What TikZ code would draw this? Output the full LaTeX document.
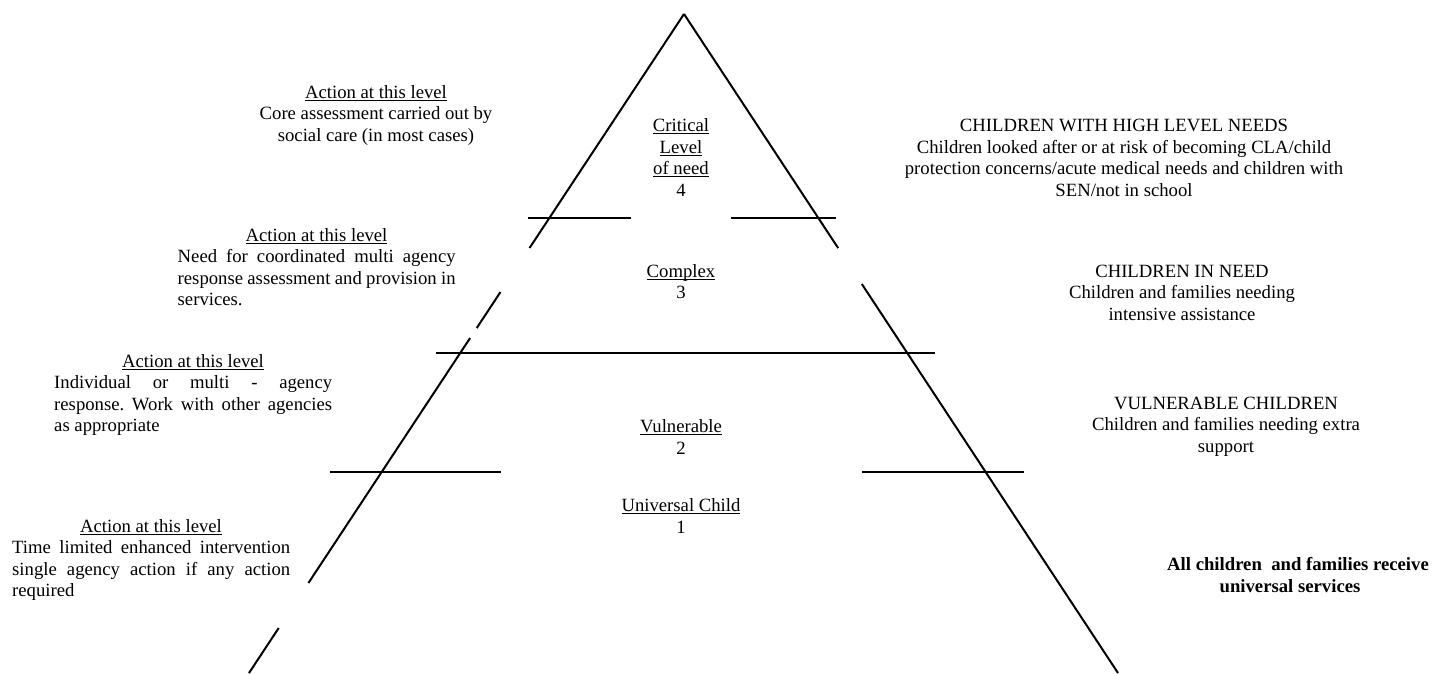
\documentclass[tikz,border=0pt]{standalone}
\usepackage{fontspec}
\setmainfont{Liberation Serif}
\usetikzlibrary{calc}
\frenchspacing
\newcommand{\ulx}[1]{\setbox0=\hbox{#1}\rlap{\rule[-2.5pt]{\wd0}{0.9pt}}\box0}
\newcommand{\jst}[1]{\makebox[278pt][s]{#1}}
\begin{document}
\begin{tikzpicture}[x=1pt,y=-1pt,
  txt/.style={inner sep=0pt, anchor=base, font=\fontsize{18.7}{21.5}\selectfont},
  jtxt/.style={txt, anchor=base west},
  btxt/.style={txt, font=\fontsize{18.7}{21.5}\selectfont\bfseries},
  edge/.style={line width=2pt}]
\useasboundingbox (0,0) rectangle (1432,673);
% pyramid sides
\coordinate (A) at (684,14);
\coordinate (L) at (249,673);
\coordinate (R) at (1118,673);
\coordinate (L1) at ($(A)!0.3551!(L)$);
\coordinate (L2) at ($(A)!0.4219!(L)$);
\coordinate (L3) at ($(A)!0.4765!(L)$);
\coordinate (L4) at ($(A)!0.4917!(L)$);
\coordinate (L5) at ($(A)!0.8634!(L)$);
\coordinate (L6) at ($(A)!0.9317!(L)$);
\coordinate (R1) at ($(A)!0.3551!(R)$);
\coordinate (R2) at ($(A)!0.4097!(R)$);
\draw[edge] (A) -- (L1);
\draw[edge] (L2) -- (L3);
\draw[edge] (L4) -- (L5);
\draw[edge] (L6) -- (L);
\draw[edge] (A) -- (R1);
\draw[edge] (R2) -- (R);
% level lines
\coordinate (h1a) at (528,218); \coordinate (h1b) at (631,218);
\coordinate (h1c) at (731,218); \coordinate (h1d) at (836,218);
\coordinate (h2a) at (436,353); \coordinate (h2b) at (935,353);
\coordinate (h3a) at (330,472); \coordinate (h3b) at (501,472);
\coordinate (h3c) at (862,472); \coordinate (h3d) at (1024,472);
\draw[edge] (h1a) -- (h1b);
\draw[edge] (h1c) -- (h1d);
\draw[edge] (h2a) -- (h2b);
\draw[edge] (h3a) -- (h3b);
\draw[edge] (h3c) -- (h3d);
% centre labels
\node[txt] (c4a) at (681,131.5) {\ulx{Critical}};
\node[txt] (c4b) at (681,153) {\ulx{Level}};
\node[txt] (c4c) at (681,174.5) {\ulx{of need}};
\node[txt] (c4d) at (681,196) {4};
\node[txt] (c3a) at (681,277) {\ulx{Complex}};
\node[txt] (c3b) at (681,298.5) {3};
\node[txt] (c2a) at (681,432) {\ulx{Vulnerable}};
\node[txt] (c2b) at (681,454) {2};
\node[txt] (c1a) at (681,511.5) {\ulx{Universal Child}};
\node[txt] (c1b) at (681,533) {1};
% left blocks
\node[txt] (a4h) at (376,98) {\ulx{Action at this level}};
\node[txt] (a4a) at (376,119.5) {Core assessment carried out by};
\node[txt] (a4b) at (376,141) {social care (in most cases)};
\node[txt] (a3h) at (316.5,241) {\ulx{Action at this level}};
\node[jtxt] (a3a) at (177.5,262.5) {\jst{Need for coordinated multi agency}};
\node[jtxt] (a3b) at (177.5,284) {\jst{response assessment and provision in}};
\node[jtxt] (a3c) at (177.5,305.5) {services.};
\node[txt] (a2h) at (193,367) {\ulx{Action at this level}};
\node[jtxt] (a2a) at (54,388.5) {\jst{Individual or multi - agency}};
\node[jtxt] (a2b) at (54,410) {\jst{response. Work with other agencies}};
\node[jtxt] (a2c) at (54,431.5) {as appropriate};
\node[txt] (a1h) at (151,532) {\ulx{Action at this level}};
\node[jtxt] (a1a) at (12,553.5) {\jst{Time limited enhanced intervention}};
\node[jtxt] (a1b) at (12,575) {\jst{single agency action if any action}};
\node[jtxt] (a1c) at (12,596.5) {required};
% right blocks
\node[txt] (r4h) at (1124,131.5) {CHILDREN WITH HIGH LEVEL NEEDS};
\node[txt] (r4a) at (1124,153) {Children looked after or at risk of becoming CLA/child};
\node[txt] (r4b) at (1124,174.5) {protection concerns/acute medical needs and children with};
\node[txt] (r4c) at (1124,196) {SEN/not in school};
\node[txt] (r3h) at (1182,277) {CHILDREN IN NEED};
\node[txt] (r3a) at (1182,298.5) {Children and families needing};
\node[txt] (r3b) at (1182,320) {intensive assistance};
\node[txt] (r2h) at (1226,409) {VULNERABLE CHILDREN};
\node[txt] (r2a) at (1226,430.5) {Children and families needing extra};
\node[txt] (r2b) at (1226,452) {support};
\node[btxt] (r1a) at (1298,570.5) {All children\ \ and families receive};
\node[btxt] (r1b) at (1290,592) {universal services};
\end{tikzpicture}
\end{document}
